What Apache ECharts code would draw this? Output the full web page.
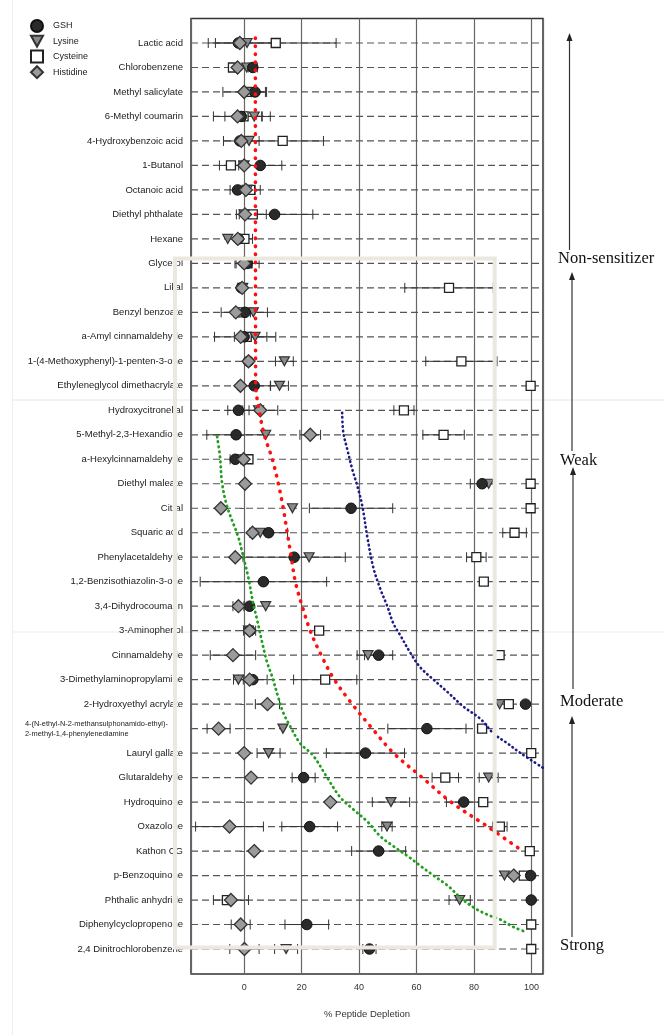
<!DOCTYPE html>
<html>
<head>
<meta charset="utf-8">
<script src="https://cdn.jsdelivr.net/npm/echarts@6/dist/echarts.min.js"></script>
<style>
html,body{margin:0;padding:0;background:#fff;}
#chart{width:664px;height:1035px;}
</style>
</head>
<body>
<div id="chart"></div>
<script>
const categories = ['Lactic acid','Chlorobenzene','Methyl salicylate','6-Methyl coumarin','4-Hydroxybenzoic acid','1-Butanol','Octanoic acid','Diethyl phthalate','Hexane','Glycerol','Lilial','Benzyl benzoate','a-Amyl cinnamaldehyde','1-(4-Methoxyphenyl)-1-penten-3-one','Ethyleneglycol dimethacrylate','Hydroxycitronellal','5-Methyl-2,3-Hexandione','a-Hexylcinnamaldehyde','Diethyl maleate','Citral','Squaric acid','Phenylacetaldehyde','1,2-Benzisothiazolin-3-one','3,4-Dihydrocoumarin','3-Aminophenol','Cinnamaldehyde','3-Dimethylaminopropylamine','2-Hydroxyethyl acrylate','4-(N-ethyl-N-2-methansulphonamido-ethyl)-2-methyl-1,4-phenylenediamine','Lauryl gallate','Glutaraldehyde','Hydroquinone','Oxazolone','Kathon CG','p-Benzoquinone','Phthalic anhydride','Diphenylcyclopropenone','2,4 Dinitrochlorobenzene'];

const gsh   = [-2,3,3.8,-1,-1.5,5.6,-2.3,10.6,-2,1,-1,0.3,0,1.5,3.5,-2,-2.8,-3.1,82.8,37.2,8.5,17.4,6.7,1.9,2,46.8,3,97.9,63.6,42.2,20.7,76.4,22.8,46.8,99.7,99.9,21.8,43.6];
const gshSd = [0,1.6,4,0,0,7.5,2.6,13.3,0,0,0,0,0,0,5.6,3.7,10.2,1.8,4.1,14.5,6.6,17.8,22,0,0,4.9,5,0,13.6,13.6,4,6,9.7,9.4,0,0,7.6,2.3];
const lys   = [1,0.9,2.5,3.5,1.7,0,1,0,-5.7,1,-0.5,3.2,3.8,14,12.3,5,7.5,-1,85.1,16.8,5.6,22.6,null,7.5,1.5,43.1,-2,88.9,13.5,8.5,85.1,51.1,49.7,null,90.6,75,null,14.6];
const lysSd = [0,0,0,5.6,0,0,2.8,0,0,0,0,4.9,7.2,3.1,3.1,0,0,0,0,0,0,0,0,0,0,3.8,1.7,0,0,4,3.3,6.5,1.8,0,0,3.7,0,4];
const cys   = [11,-3.9,1,-0.2,13.4,-4.6,2.1,3,0.1,1,71.3,-2,0.9,75.6,99.7,55.6,69.4,1.5,99.7,99.7,94.1,80.8,83.4,null,26.1,88.9,28.2,92.1,82.8,99.9,70,83.2,89,99.4,97.3,-6,99.9,99.9];
const cysSd = [21,0,0,6.5,14.2,4,3.5,4.7,2.8,4.2,15.4,0,0,12.4,0,3.5,7.2,1.2,0,0,4.1,3.4,0,0,0,0,11,0,0,0,4.6,0,2.5,0,0,0,0,0];
const his   = [-1.5,-2.3,0,-2.3,-1,0,0.6,0.3,-2.2,0,-0.7,-2.9,-1.2,1.5,-1.3,5.6,23,-0.2,0.3,-8.1,2.9,-3.1,null,-2,1.9,-3.9,1.9,8.1,-8.9,0,2.4,30,-5.1,3.5,93.8,-4.6,-1.2,0.1];
const hisSd = [11,0,7.4,8.4,6.2,0,0,0,0,2.8,0,5.1,9.1,0,0,6.1,3.6,0,0,0,0,0,0,1.9,2.1,7.9,0,4.2,4,0,0,0,11.8,0,0,6.1,3.3,5.1];

// hand-drawn threshold curves: [depletion %, row position]
const redCurve = [[3.9,-0.2],[4.0,13.9],[5.2,15],[7.0,16],[9.8,17],[11.9,18],[13.6,19],[15.0,20],[16.4,21],[17.8,22],[20.2,23],[23.0,24],[26.8,25],[31.4,26],[37.6,27],[44.6,28],[52,29],[62,30],[72,31],[84.7,32],[96.9,33]];
const greenCurve = [[-9.4,16.08],[-8.4,16.9],[-7.7,17.96],[-5.9,18.94],[-2.1,20.16],[-0.3,20.98],[1.4,21.8],[3.1,22.86],[4.5,23.55],[6.3,24.5],[8,25.3],[9.8,25.9],[11.8,26.7],[13.6,27.35],[16,27.9],[19.5,28.6],[24,29.1],[28.9,30],[33.4,30.8],[38,31.3],[42.9,31.8],[47.4,32.4],[51.9,32.8],[56.8,33.2],[61.3,33.6],[65.9,34],[70.7,34.4],[75.3,34.9],[79.8,35.3],[84.7,35.6],[89.2,35.8],[93.7,36.1],[97.9,36.3]];
const blueCurve = [[34.1,15.1],[34.5,15.9],[35.9,16.6],[37.6,17.4],[39.4,18.1],[41.1,18.9],[42.9,20.2],[44.9,21.4],[47.4,22.3],[49.8,23],[51.9,23.7],[54.4,24.2],[57.8,24.9],[61.3,25.5],[65.9,26],[70.7,26.5],[76.3,27.1],[82.2,27.6],[86.8,28.2],[91.6,28.6],[96.2,29],[104,29.6]];

const xTickLabels = [0,20,40,60,80,100];
const classLabels = ['Non-sensitizer','Weak','Moderate','Strong'];
const seriesNames = ['GSH','Lysine','Cysteine','Histidine'];

const chart = echarts.init(document.getElementById('chart'), null, {renderer:'canvas'});

function pts(vals){ return vals.map((v,i)=> v==null ? null : [v, i]).filter(d=>d); }
function errs(vals, sds){ return vals.map((v,i)=> (v==null || !sds[i]) ? null : [v, sds[i], i]).filter(d=>d); }

function errRender(params, api){
  const v = api.value(0), sd = api.value(1), yi = api.value(2);
  const a = api.coord([v - sd, yi]), b = api.coord([v + sd, yi]);
  const h = 5;
  const style = {stroke:'#333', lineWidth:1};
  return {type:'group', children:[
    {type:'line', shape:{x1:a[0],y1:a[1],x2:b[0],y2:b[1]}, style:style},
    {type:'line', shape:{x1:a[0],y1:a[1]-h,x2:a[0],y2:a[1]+h}, style:style},
    {type:'line', shape:{x1:b[0],y1:b[1]-h,x2:b[0],y2:b[1]+h}, style:style}
  ]};
}
const DATA_AX = {xAxisIndex:1, yAxisIndex:1};
function errSeries(vals, sds){
  return Object.assign({type:'custom', renderItem:errRender, data:errs(vals, sds), encode:{x:0, y:2}, z:2, silent:true}, DATA_AX);
}
function scatter(name, vals, symbol, size, style){
  return Object.assign({name:name, type:'scatter', data:pts(vals), symbol:symbol, symbolSize:size, z:3, itemStyle:style}, DATA_AX);
}
function curve(data, color, width, dash){
  return {type:'line', xAxisIndex:1, yAxisIndex:2, data:data, symbol:'none', smooth:0.35,
    lineStyle:{color:color, width:width, type:dash, cap:'round'}, z:8, silent:true};
}

const longName = categories[28];
const FONT = 'Liberation Sans, Arial, sans-serif';

function arrow(x, yTip, yBottom){
  return [
    {type:'line', shape:{x1:x, y1:yTip+6, x2:x, y2:yBottom}, style:{stroke:'#333', lineWidth:1.2}, z:100},
    {type:'polygon', shape:{points:[[x, yTip],[x-3, yTip+8],[x+3, yTip+8]]}, style:{fill:'#222'}, z:100}
  ];
}

const option = {
  animation:false,
  backgroundColor:'#fff',
  grid:[
    {left:191, right:121, top:18.5, bottom:61, show:true, borderColor:'#333', borderWidth:1.5, backgroundColor:'transparent'},
    {left:191, right:121, top:30.75, bottom:73.75, show:false}
  ],
  legend:{
    data:seriesNames, orient:'vertical', left:25, top:14, itemWidth:12, itemHeight:12, itemGap:1.8,
    selectedMode:false, textStyle:{fontSize:9, color:'#222', fontFamily:FONT, padding:[0,0,0,5]}
  },
  xAxis:[{
    gridIndex:0, type:'value', min:-18.5, max:104, splitNumber:5,
    axisLine:{show:false}, axisTick:{show:false},
    splitLine:{show:true, lineStyle:{color:'#666', width:1.2}},
    axisLabel:{fontSize:9, color:'#333', margin:9, fontFamily:FONT,
      formatter:function(v){ return xTickLabels.indexOf(Math.round(v*100)/100) >= 0 ? String(v) : ''; }},
    name:'% Peptide Depletion', nameLocation:'middle', nameGap:35,
    nameTextStyle:{fontSize:9.5, color:'#333', fontFamily:FONT}
  },{
    gridIndex:1, type:'value', min:-18.5, max:104, show:false
  }],
  yAxis:[{
    gridIndex:0, type:'value', show:false, min:0, max:1
  },{
    gridIndex:1, type:'category', data:categories, inverse:true, boundaryGap:true,
    axisLine:{show:false},
    axisTick:{show:true, alignWithLabel:true, interval:0, length:4, lineStyle:{color:'#555'}},
    splitLine:{show:false},
    axisLabel:{interval:0, fontSize:9.5, color:'#1a1a1a', margin:8, fontFamily:FONT,
      formatter:function(v){
        if (v === longName) return '{s|4-(N-ethyl-N-2-methansulphonamido-ethyl)-}\n{s|2-methyl-1,4-phenylenediamine}';
        return v;
      },
      rich:{s:{fontSize:7.4, width:158, align:'left', lineHeight:10, color:'#1a1a1a', fontFamily:FONT}}
    }
  },{
    gridIndex:1, type:'value', min:-0.5, max:37.5, inverse:true, show:false
  }],
  series:[
    Object.assign({type:'custom', silent:true, z:1, data:categories.map(c=>[c]), encode:{y:0},
      renderItem:function(params, api){
        const y = api.coord([0, api.value(0)])[1];
        const cs = params.coordSys;
        return {type:'line', shape:{x1:cs.x, y1:y, x2:cs.x+cs.width, y2:y}, style:{stroke:'#555', lineWidth:1.2, lineDash:[7,4]}};
      }}, DATA_AX),
    errSeries(cys, cysSd), errSeries(lys, lysSd), errSeries(gsh, gshSd), errSeries(his, hisSd),
    scatter('Cysteine', cys, 'rect', 9, {color:'#fff', borderColor:'#222', borderWidth:1.3, opacity:1}),
    scatter('Lysine', lys, 'path://M0,0L10,0L5,9Z', [10,9], {color:'#8a8a8a', borderColor:'#333', borderWidth:1.2, opacity:1}),
    scatter('GSH', gsh, 'circle', 10.5, {color:'#2a2a2a', borderColor:'#111', borderWidth:1, opacity:1}),
    scatter('Histidine', his, 'diamond', 13, {color:'#9b9b9b', borderColor:'#333', borderWidth:1.3, opacity:1}),
    curve(redCurve, '#ff1010', 3.6, [0.5, 7.5]),
    curve(greenCurve, '#1f9e1f', 2.8, [0.5, 4.5]),
    curve(blueCurve, '#1c1c86', 2.6, [0.5, 4])
  ],
  graphic:[
    {type:'line', shape:{x1:12.5, y1:0, x2:12.5, y2:1035}, style:{stroke:'#eeeeee', lineWidth:1}, z:-1, silent:true},
    {type:'line', shape:{x1:12, y1:400, x2:664, y2:400}, style:{stroke:'#e6e6e6', lineWidth:1}, z:-1, silent:true},
    {type:'line', shape:{x1:12, y1:632, x2:664, y2:632}, style:{stroke:'#ececec', lineWidth:1}, z:-1, silent:true},
    {type:'rect', shape:{x:175, y:258.5, width:319.7, height:689}, style:{fill:null, stroke:'#ebe9df', lineWidth:4}, z:100, silent:true}
  ].concat(arrow(569.5, 33, 250), arrow(572, 272, 451), arrow(573, 467, 689), arrow(572, 716, 937), [
    {type:'text', left:558, top:250, style:{text:classLabels[0], font:'16.5px "Liberation Serif", "Times New Roman", serif', fill:'#111'}, z:100},
    {type:'text', left:560, top:452, style:{text:classLabels[1], font:'16.5px "Liberation Serif", "Times New Roman", serif', fill:'#111'}, z:100},
    {type:'text', left:560, top:693, style:{text:classLabels[2], font:'16.5px "Liberation Serif", "Times New Roman", serif', fill:'#111'}, z:100},
    {type:'text', left:560, top:937, style:{text:classLabels[3], font:'16.5px "Liberation Serif", "Times New Roman", serif', fill:'#111'}, z:100}
  ])
};
chart.setOption(option);
</script>
</body>
</html>
